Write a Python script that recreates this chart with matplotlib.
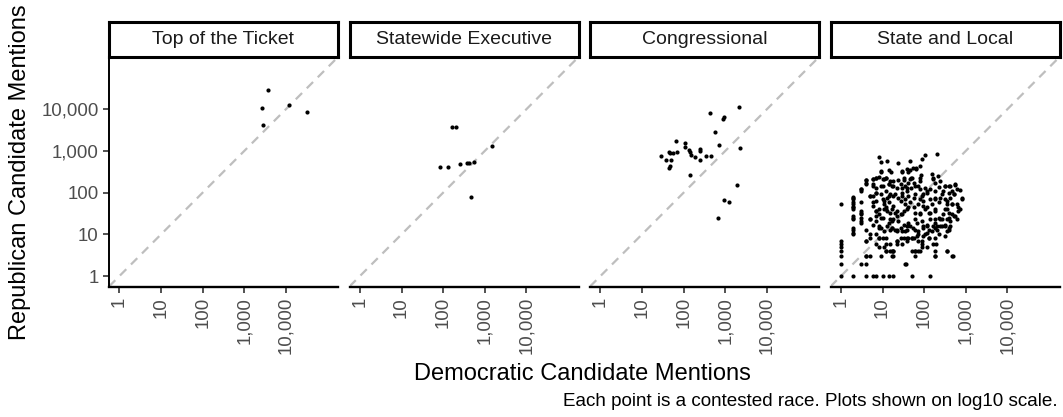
import matplotlib
matplotlib.use("Agg")
import matplotlib.pyplot as plt
from matplotlib.ticker import FixedLocator, FixedFormatter, NullLocator

plt.rcParams["font.family"] = ["Liberation Sans", "DejaVu Sans"]

panels = ["Top of the Ticket", "Statewide Executive", "Congressional", "State and Local"]

# Mentions per contested race, as (Democratic, Republican) pairs
top_races = [(3700, 29000), (2600, 10700), (11700, 12900), (32000, 8500), (2800, 4100)]

statewide_races = [(160, 3700), (205, 3700), (1450, 1290), (82, 410), (132, 410),
                   (257, 480), (372, 500), (427, 525), (537, 540), (457, 78)]

congress_races = [(2140, 11200), (437, 7900), (870, 5750), (930, 6450), (560, 2820),
                  (690, 1380), (2290, 1150), (66, 1740), (105, 1580), (110, 1260),
                  (45, 955), (54, 912), (71, 933), (47, 880), (135, 1050), (138, 955),
                  (245, 1100), (251, 1000), (148, 776), (182, 708), (347, 759),
                  (447, 759), (251, 589), (28, 759), (37, 589), (49, 617), (47, 437),
                  (45, 398), (138, 263), (1950, 155), (910, 65), (1230, 60), (660, 24)]

local_races = [
    (8, 731), (201, 847), (102, 802), (9, 544), (13, 565), (23, 525), (45, 565),
    (88, 655), (64, 377), (46, 344), (41, 312), (9, 319), (16, 319), (29, 319),
    (80, 437), (153, 275), (209, 251),
    (4, 198), (4, 167), (6, 217), (7, 225), (8, 233), (11, 209), (12, 225), (18, 190),
    (32, 198), (42, 174), (51, 228), (56, 174), (80, 190), (159, 225), (184, 174),
    (242, 190),
    (3, 120), (3, 110), (6, 159), (7, 132), (9, 145), (14, 159), (17, 145), (22, 132),
    (29, 132), (38, 132), (61, 145), (80, 120), (116, 110), (184, 110), (319, 145),
    (384, 145), (555, 156), (706, 113), (291, 110), (461, 110),
    (2, 80), (2, 69), (2, 52), (3, 58), (5, 83), (6, 83), (7, 100), (10, 69), (11, 63),
    (13, 76), (15, 91), (18, 83), (24, 76), (29, 83), (35, 69), (42, 83), (56, 76),
    (80, 69), (96, 91), (139, 69), (184, 69), (242, 76), (319, 69), (421, 76),
    (506, 91), (802, 72), (350, 52), (461, 52), (631, 52), (731, 40), (667, 36),
    (1, 54), (2, 45), (2, 40), (2, 25), (3, 33), (3, 25), (6, 48), (7, 36), (8, 40),
    (11, 40), (12, 44), (13, 36), (17, 40), (20, 33), (22, 28), (27, 30), (32, 36),
    (42, 44), (56, 44), (80, 33), (96, 48), (116, 44), (127, 33), (184, 40), (221, 25),
    (265, 23), (319, 40), (350, 23), (384, 25), (461, 30), (555, 28), (608, 23),
    (7, 28), (9, 25), (15, 23), (17, 21),
    (2, 13), (2, 10), (5, 23), (6, 17), (8, 16), (9, 14), (13, 16), (15, 13), (17, 14),
    (20, 13), (22, 12), (27, 14), (35, 12), (38, 16), (46, 16), (61, 13), (73, 10),
    (96, 14), (116, 11), (167, 16), (201, 16), (242, 16), (319, 16), (384, 14),
    (350, 12), (421, 16), (116, 16), (67, 19), (139, 23), (184, 23), (201, 13),
    (4, 13), (5, 10), (5, 8), (7, 10), (10, 8), (8, 8), (27, 8), (22, 7), (32, 8),
    (42, 8), (51, 8), (38, 7), (56, 8), (67, 9), (88, 7), (106, 10), (127, 8),
    (153, 12), (184, 8), (319, 9), (4, 7), (12, 6), (15, 6), (22, 6), (88, 6),
    (116, 5), (195, 6),
    (7, 6), (8, 5), (12, 4), (17, 4), (18, 4), (61, 4), (73, 4), (88, 5), (184, 4),
    (350, 4), (4, 3), (5, 3), (9, 3), (17, 3), (18, 3), (61, 4), (184, 3), (479, 3),
    (3, 2), (4, 2), (35, 2), (37, 2),
    (1, 1), (2, 1), (4, 1), (6, 1), (7, 1), (10, 1), (14, 1), (18, 1), (50, 1), (135, 1),
    (1, 2), (1, 3), (1, 4), (1, 5), (1, 6), (1, 7),
    # denser middle of the cloud
    (9, 331), (14, 344), (29, 331), (38, 363), (55, 384), (63, 398), (85, 265), (49, 229),
    (4, 198), (6, 209), (7, 229), (10, 217), (12, 229), (15, 191), (24, 198), (32, 229),
    (46, 209), (80, 229), (167, 209),
    (3, 120), (4, 158), (6, 145), (10, 145), (14, 158), (18, 145), (27, 164), (35, 145),
    (49, 132), (73, 145), (106, 132), (139, 120), (221, 137), (319, 145), (421, 145),
    (555, 158),
    (5, 83), (7, 100), (9, 91), (12, 110), (14, 83), (20, 91), (29, 100), (38, 110),
    (61, 91), (88, 83), (116, 100), (184, 76), (265, 91), (384, 100), (506, 91),
    (802, 76), (608, 120),
    (2, 76), (2, 58), (6, 58), (7, 63), (11, 52), (14, 58), (18, 48), (27, 63), (35, 52),
    (46, 58), (73, 52), (96, 63), (153, 52), (221, 58), (350, 63), (461, 52), (667, 44),
    (2, 44), (3, 36), (3, 30), (7, 36), (8, 30), (12, 40), (15, 33), (22, 36), (29, 30),
    (38, 40), (61, 33), (80, 30), (106, 40), (139, 33), (184, 36), (291, 30), (384, 33),
    (506, 28), (350, 40),
    (2, 28), (2, 23), (3, 21), (3, 19), (5, 23), (7, 21), (10, 25), (14, 19), (18, 23),
    (24, 21), (32, 17), (42, 19), (61, 23), (88, 21), (116, 17), (184, 19), (242, 23),
    (319, 17), (421, 21),
    (2, 14), (2, 11), (8, 14), (11, 12), (17, 14), (22, 13), (29, 12), (38, 13), (55, 14),
    (73, 12), (96, 16), (127, 13), (184, 14), (265, 16), (384, 13),
    (8, 8), (4, 7), (12, 8), (22, 7), (29, 6), (38, 8), (51, 8), (73, 7), (96, 9),
    (127, 8), (167, 6), (221, 10),
    (4, 3), (12, 4), (11, 5), (15, 4), (18, 4), (51, 4), (61, 3), (80, 4), (184, 3),
    (350, 4), (461, 3),
]

series = [top_races, statewide_races, congress_races, local_races]

tick_values = [1, 10, 100, 1000, 10000]
tick_labels = ["1", "10", "100", "1,000", "10,000"]

W, H = 1063, 417
fig = plt.figure(figsize=(W / 100, H / 100), dpi=100)

lo, hi = 10 ** -0.25, 10 ** 5.25
panel_w, panel_h = 229, 229.5
panel_top = 57
strip_top = 22
lefts = [109, 349.5, 590, 830.5]
text_grey = "#4D4D4D"

for i, (name, races) in enumerate(zip(panels, series)):
    dem = [d for d, r in races]
    rep = [r for d, r in races]
    left = lefts[i]
    ax = fig.add_axes([left / W, 1 - (panel_top + panel_h) / H, panel_w / W, panel_h / H])
    ax.set_xscale("log")
    ax.set_yscale("log")
    ax.set_xlim(lo, hi)
    ax.set_ylim(lo, hi)
    ax.plot([lo, hi], [lo, hi], linestyle=(0, (4, 3)), color="#BEBEBE", linewidth=1.6, zorder=1)
    ax.scatter(dem, rep, s=9, color="black", linewidths=0, zorder=3)

    for side in ("top", "right"):
        ax.spines[side].set_visible(False)
    ax.spines["bottom"].set_linewidth(1.7)
    ax.spines["bottom"].set_color("black")
    ax.xaxis.set_major_locator(FixedLocator(tick_values))
    ax.xaxis.set_major_formatter(FixedFormatter(tick_labels))
    ax.xaxis.set_minor_locator(NullLocator())
    ax.yaxis.set_minor_locator(NullLocator())
    ax.tick_params(axis="x", length=4.5, width=1.2, color="#333333", labelsize=13.4,
                   labelcolor=text_grey, labelrotation=90, pad=3)
    for lab in ax.get_xticklabels():
        lab.set_verticalalignment("top")
    if i == 0:
        ax.spines["left"].set_linewidth(1.4)
        ax.yaxis.set_major_locator(FixedLocator(tick_values))
        ax.yaxis.set_major_formatter(FixedFormatter(tick_labels))
        ax.tick_params(axis="y", length=4.5, width=1.2, color="#333333", labelsize=13.4,
                       labelcolor=text_grey, pad=3)
    else:
        ax.spines["left"].set_visible(False)
        ax.yaxis.set_major_locator(NullLocator())
    ax.patch.set_visible(False)

    # facet strip
    sax = fig.add_axes([left / W, 1 - panel_top / H, panel_w / W, (panel_top - strip_top) / H])
    sax.set_xticks([])
    sax.set_yticks([])
    for sp in sax.spines.values():
        sp.set_linewidth(2.2)
        sp.set_color("black")
    sax.text(0.5, 0.5, name, ha="center", va="center", fontsize=14, color="#1A1A1A",
             transform=sax.transAxes)

fig.text(20 / W, 1 - 172 / H, "Republican Candidate Mentions", rotation=90,
         ha="center", va="center", fontsize=17, color="black")
fig.text(582 / W, 1 - 374 / H, "Democratic Candidate Mentions",
         ha="center", va="center", fontsize=17, color="black")
fig.text(1058 / W, 1 - 402 / H, "Each point is a contested race. Plots shown on log10 scale.",
         ha="right", va="center", fontsize=13.6, color="black")

fig.savefig("out.png", dpi=100)
